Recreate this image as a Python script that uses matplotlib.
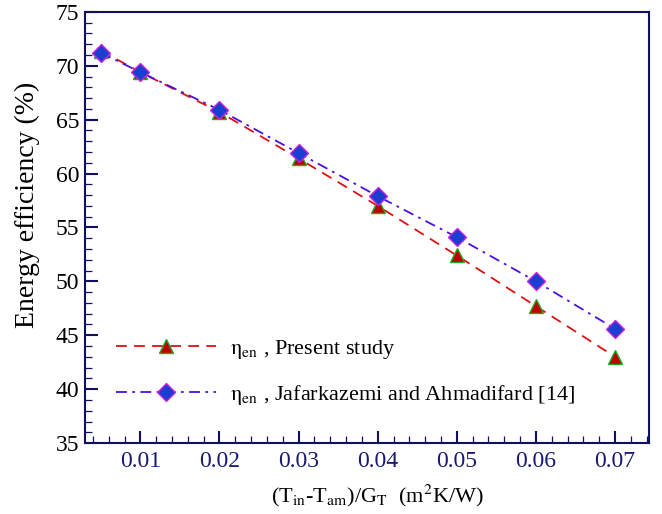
import matplotlib
matplotlib.use("Agg")
import matplotlib.pyplot as plt
from matplotlib.ticker import MultipleLocator

plt.rcParams['font.family'] = ['Liberation Serif', 'DejaVu Serif']
plt.rcParams['mathtext.fontset'] = 'stix'

x_present = [0.005, 0.01, 0.02, 0.03, 0.04, 0.05, 0.06, 0.07]
eta_present = [71.4, 69.4, 65.7, 61.4, 57.0, 52.4, 47.7, 43.0]

x_ref = [0.005, 0.01, 0.02, 0.03, 0.04, 0.05, 0.06, 0.07]
eta_ref = [71.2, 69.4, 65.9, 61.9, 57.9, 54.1, 50.0, 45.6]

x_ticks = [0.01, 0.02, 0.03, 0.04, 0.05, 0.06, 0.07]
y_ticks = [35, 40, 45, 50, 55, 60, 65, 70, 75]

NAVY = '#101060'
TICK_FS = 17
XLABEL_FS = 16
YLABEL_FS = 20
LEGEND_FS = 16

fig = plt.figure(figsize=(6.62, 5.14), dpi=100)
ax = fig.add_axes([0.1284, 0.138, 0.852, 0.839])

ax.plot(x_present, eta_present, color='#dd1111', linestyle=(0, (6, 4)), linewidth=1.3,
        marker='^', markersize=10, markerfacecolor='#c00000', markeredgecolor='#22aa22',
        markeredgewidth=1.0, label=r'$\mathrm{\eta}_{\mathrm{en}}$ , Present study', zorder=3)
ax.plot(x_ref, eta_ref, color='#4a10e0', linestyle=(0, (6, 3, 1.5, 3)), linewidth=1.3,
        marker='D', markersize=9, markerfacecolor='#1a3fd0', markeredgecolor='#cc22dd',
        markeredgewidth=1.0, label=r'$\mathrm{\eta}_{\mathrm{en}}$ , Jafarkazemi and Ahmadifard [14]',
        zorder=4)

ax.set_xlim(0.003, 0.0743)
ax.set_ylim(35, 75)
ax.set_xticks(x_ticks)
ax.set_xticklabels([f'{v:.2f}' for v in x_ticks])
ax.set_yticks(y_ticks)
ax.xaxis.set_minor_locator(MultipleLocator(0.002))
ax.yaxis.set_minor_locator(MultipleLocator(1))

for s in ax.spines.values():
    s.set_color(NAVY)
    s.set_linewidth(1.5)
ax.tick_params(axis='both', which='major', direction='in', length=9, width=1.5,
               color=NAVY, labelsize=TICK_FS, top=False, right=False)
ax.tick_params(axis='both', which='minor', direction='in', length=5, width=0.9,
               color=NAVY, top=False, right=False)
ax.tick_params(axis='x', labelcolor='#1a1a70', pad=6)
ax.tick_params(axis='y', labelcolor='black', pad=4)

ax.set_xlabel(r'(T$_{\mathrm{in}}$-T$_{\mathrm{am}}$)/G$_{\mathrm{T}}$  (m$^{2}$K/W)',
              fontsize=XLABEL_FS)
ax.set_ylabel('Energy efficiency (%)', fontsize=YLABEL_FS)
ax.xaxis.set_label_coords(0.518, -0.093)
ax.yaxis.set_label_coords(-0.08, 0.552)

ax.legend(loc='lower left', bbox_to_anchor=(0.0194, 0.038), frameon=False, fontsize=LEGEND_FS,
          handlelength=4.5, labelspacing=0.99, handletextpad=0.65)

fig.savefig('out.png', dpi=100)
